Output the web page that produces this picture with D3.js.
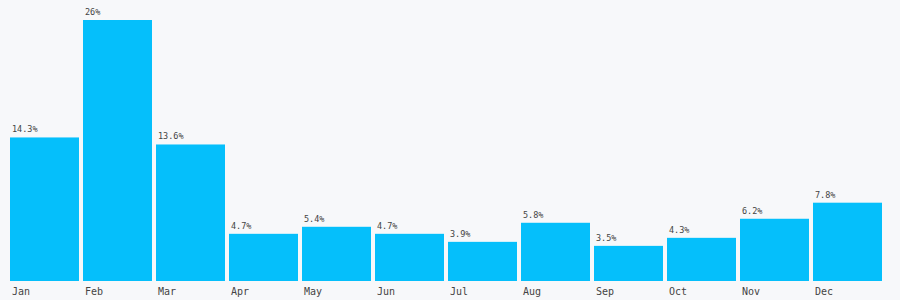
<!DOCTYPE html>
<html>
<head>
<meta charset="utf-8">
<script src="https://cdn.jsdelivr.net/npm/d3@7"></script>
<style>
  html, body { margin: 0; padding: 0; background: #f7f8fa; }
  svg { display: block; }
  text { font-family: "DejaVu Sans Mono", monospace; fill: #444; }
</style>
</head>
<body>
<svg id="chart" width="900" height="300"></svg>
<script>
let months = ['Jan', 'Feb', 'Mar', 'Apr', 'May', 'Jun', 'Jul', 'Aug', 'Sep', 'Oct', 'Nov', 'Dec']
let shares = [14.3, 26, 13.6, 4.7, 5.4, 4.7, 3.9, 5.8, 3.5, 4.3, 6.2, 7.8]

let data = months.map((m, i) => ({ month: m, value: shares[i] }))

let svg = d3.select('#chart')

let x = d3.scaleBand()
    .domain(months)
    .range([10, 882])
    .paddingInner(4 / 73)
    .paddingOuter(0)

let y = d3.scaleLinear()
    .domain([0, 26])
    .range([281, 20])

let bars = svg.selectAll('g.bar')
    .data(data)
    .enter()
    .append('g')
    .attr('class', 'bar')

bars.append('rect')
    .attr('x', d => x(d.month))
    .attr('y', d => y(d.value))
    .attr('width', x.bandwidth())
    .attr('height', d => y(0) - y(d.value))
    .attr('fill', '#05bffb')

bars.append('text')
    .attr('x', d => x(d.month) + 2)
    .attr('y', d => y(d.value) - 5)
    .attr('font-size', 8.5)
    .text(d => d.value + '%')

bars.append('text')
    .attr('x', d => x(d.month) + 2)
    .attr('y', 295)
    .attr('font-size', 10)
    .text(d => d.month)
</script>
</body>
</html>
